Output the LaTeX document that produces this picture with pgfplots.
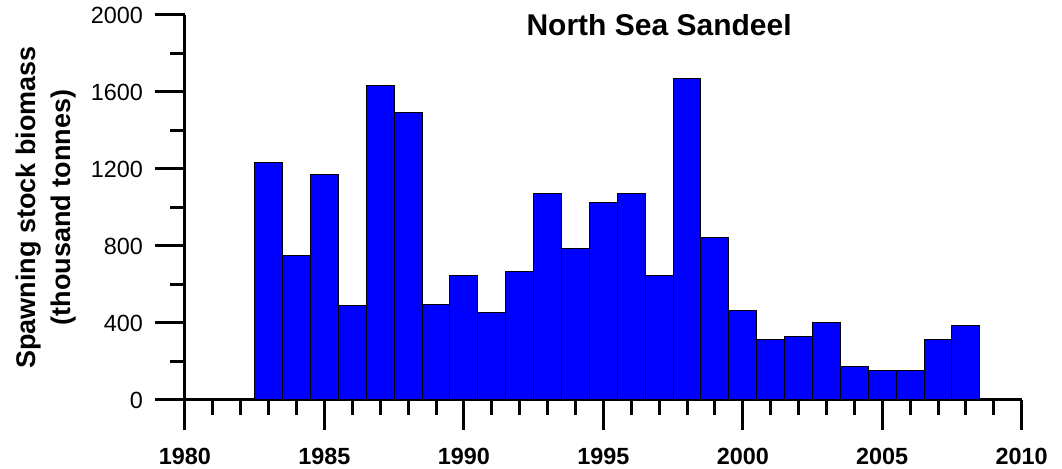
\documentclass[border=0pt]{standalone}
\usepackage{fontspec}
\setmainfont{Liberation Sans}
\usepackage{pgfplots}
\pgfplotsset{compat=1.18}
\definecolor{barblue}{RGB}{0,0,255}

\begin{document}
\begin{tikzpicture}
\useasboundingbox (-92.5pt,-34.5pt) rectangle (438.5pt,200pt);
\begin{axis}[
    at={(0,0)}, anchor=south west,
    scale only axis,
    width=418.35pt, height=192.5pt,
    xmin=1980, xmax=2010,
    ymin=0, ymax=2000,
    axis lines=left,
    axis line style={-, line width=1.5pt},
    xtick={1980,1985,...,2010}, minor x tick num=4,
    ytick={0,400,...,2000}, minor y tick num=1,
    tick align=outside,
    major tick length=15pt, minor tick length=7.5pt,
    tick style={black, line width=1.5pt},
    /pgf/number format/assume math mode=true,
    /pgf/number format/set thousands separator={},
    xticklabel style={font=\bfseries\fontsize{11.7}{13}\selectfont, yshift=-5.5pt},
    yticklabel style={font=\fontsize{11.7}{13}\selectfont, xshift=-2.5pt},
    ylabel={Spawning stock biomass\\(thousand tonnes)},
    ylabel style={at={(axis description cs:-0.1661,0.5)}, anchor=center,
        align=center, font=\bfseries\fontsize{13.5}{17.5}\selectfont},
]
\addplot[ybar, bar width=1, fill=barblue, draw=black, line width=0.5pt] coordinates {
    (1983,1235) (1984,753) (1985,1169) (1986,490) (1987,1635)
    (1988,1493) (1989,494) (1990,648) (1991,455) (1992,670)
    (1993,1074) (1994,788) (1995,1027) (1996,1074) (1997,648)
    (1998,1671) (1999,842) (2000,464) (2001,313) (2002,329)
    (2003,402) (2004,173) (2005,152) (2006,154) (2007,312)
    (2008,388)
};
\node[anchor=base, font=\bfseries\fontsize{15}{17}\selectfont]
    at (axis cs:1997,1896) {North Sea Sandeel};
\end{axis}
\end{tikzpicture}
\end{document}
